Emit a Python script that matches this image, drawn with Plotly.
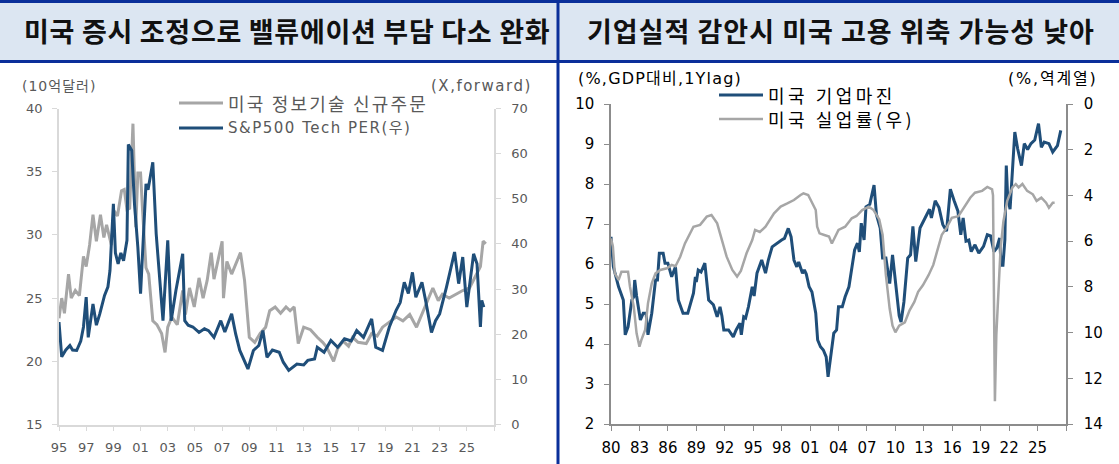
import plotly.graph_objects as go

W, H = 1119, 464

# ---------------- data (left chart) ----------------
orders_x = [1995.00,1995.20,1995.40,1995.70,1995.90,1996.20,1996.50,1996.80,1997.00,1997.25,1997.50,1997.75,
            1998.05,1998.30,1998.50,1998.85,1999.05,1999.30,1999.60,1999.80,2000.00,2000.20,2000.44,2000.55,
            2000.65,2000.80,2001.00,2001.15,2001.30,2001.40,2001.60,2001.75,2001.90,2002.20,2002.55,2002.80,
            2003.00,2003.30,2003.70,2004.10,2004.30,2004.60,2004.95,2005.30,2005.60,2005.90,2006.20,2006.40,
            2006.70,2007.00,2007.10,2007.35,2007.70,2008.00,2008.35,2008.65,2008.90,2009.00,2009.40,2009.80,
            2010.20,2010.50,2010.90,2011.30,2011.70,2012.00,2012.30,2012.60,2013.00,2013.50,2014.00,2014.40,
            2014.70,2015.20,2015.50,2015.90,2016.30,2016.60,2017.00,2017.60,2018.00,2018.40,2018.80,2019.20,
            2019.80,2020.30,2020.80,2021.30,2021.80,2022.20,2022.50,2022.90,2023.20,2023.70,2024.20,2024.70,
            2025.20,2025.70,2026.00,2026.20,2026.40]
orders_val = [23.4,25.0,23.8,26.9,25.0,25.6,25.2,28.3,27.5,29.2,31.6,29.5,
              31.6,29.8,30.8,29.2,31.9,31.5,33.5,33.6,32.0,32.1,38.8,35.0,
              30.6,34.9,34.9,31.9,29.5,27.4,26.9,24.8,23.2,22.9,22.2,20.7,
              22.7,23.5,22.9,25.6,23.7,25.8,24.3,26.6,25.0,26.4,28.6,26.5,
              27.9,29.5,25.0,27.9,26.9,27.7,28.6,26.4,23.2,21.9,21.5,22.2,
              22.7,24.0,24.3,23.8,24.3,24.0,24.3,21.4,22.7,22.5,21.9,21.5,
              21.1,20.0,21.0,21.6,21.2,21.9,21.5,21.4,22.2,22.0,22.7,23.0,
              23.5,23.2,23.7,22.7,24.0,25.0,25.8,24.8,25.3,25.0,25.3,25.6,
              25.8,26.9,27.5,29.5,29.3]

per_x = [1995.00,1995.10,1995.20,1995.50,1995.80,1996.00,1996.30,1996.60,1996.80,1997.00,1997.15,1997.50,
         1997.75,1998.00,1998.35,1998.60,1998.75,1999.00,1999.15,1999.35,1999.55,1999.75,2000.00,2000.10,
         2000.35,2000.55,2000.80,2001.00,2001.40,2001.55,2001.90,2002.15,2002.50,2002.65,2003.00,2003.25,
         2003.60,2004.10,2004.25,2004.50,2004.85,2005.30,2005.70,2006.00,2006.40,2006.70,2006.90,2007.20,
         2007.70,2008.00,2008.30,2008.90,2009.30,2009.70,2010.00,2010.30,2010.70,2011.20,2011.50,2011.90,
         2012.50,2013.00,2013.30,2013.80,2014.00,2014.50,2015.00,2015.50,2016.00,2016.50,2016.90,2017.40,
         2018.00,2018.30,2018.80,2019.30,2019.80,2020.10,2020.40,2020.70,2021.00,2021.25,2021.70,2022.00,
         2022.40,2022.70,2023.00,2023.50,2024.10,2024.40,2024.70,2025.00,2025.50,2025.75,2026.00,2026.10,
         2026.25]
per_val = [22.7,18.0,15.0,16.5,17.5,16.5,16.4,18.5,21.6,28.2,19.3,26.7,
           22.0,24.5,28.6,30.5,34.1,48.9,38.0,35.6,38.0,36.3,40.8,62.0,
           60.7,49.0,39.3,29.0,53.3,52.0,58.1,42.2,27.5,23.0,40.8,23.0,
           29.7,37.8,23.0,22.0,21.6,20.4,21.2,20.8,19.3,21.5,23.0,20.5,
           24.5,20.0,16.4,12.3,16.4,17.5,20.8,14.9,16.5,16.0,13.8,12.0,
           13.4,13.2,14.2,14.5,17.1,16.0,18.6,17.1,19.0,18.5,20.8,19.3,
           23.4,17.1,16.4,21.6,25.3,27.0,31.5,29.0,33.7,28.2,31.5,27.0,
           20.4,23.0,24.5,30.4,38.2,31.2,37.1,26.0,37.8,35.6,21.6,27.5,
           26.0]

left_xticks = list(range(1995, 2028, 2))
left_xlabels = ["95","97","99","01","03","05","07","09","11","13","15","17","19","21","23","25",""]

# ---------------- data (right chart) ----------------
margin_x = [1980.00,1980.25,1980.80,1981.30,1981.50,1981.80,1982.20,1982.40,1982.50,1982.70,1983.10,1983.40,
            1983.70,1983.90,1984.30,1984.70,1984.90,1985.10,1985.50,1985.70,1986.00,1986.40,1986.80,1987.10,
            1987.60,1988.10,1988.70,1988.90,1989.00,1989.20,1989.50,1989.90,1990.30,1990.80,1991.20,1991.50,
            1991.70,1991.90,1992.40,1992.90,1993.20,1993.60,1993.75,1994.00,1994.20,1994.50,1994.90,1995.10,
            1995.40,1995.90,1996.30,1996.60,1997.00,1997.50,1998.00,1998.30,1998.70,1999.00,1999.30,1999.60,
            1999.80,2000.20,2000.40,2000.60,2000.90,2001.20,2001.40,2001.60,2001.80,2002.10,2002.40,2002.70,
            2002.90,2003.20,2003.50,2003.80,2004.00,2004.40,2004.70,2005.10,2005.40,2005.70,2006.00,2006.20,
            2006.40,2006.70,2006.90,2007.30,2007.75,2008.00,2008.40,2008.65,2009.00,2009.40,2009.70,2010.00,
            2010.40,2010.60,2010.90,2011.30,2011.60,2011.85,2012.15,2012.60,2013.10,2013.60,2013.80,2014.20,
            2014.60,2015.00,2015.40,2015.80,2016.20,2016.60,2016.90,2017.15,2017.45,2017.75,2018.00,2018.40,
            2018.80,2019.30,2019.70,2020.05,2020.40,2020.70,2021.00,2021.15,2021.35,2021.55,2021.70,2021.85,
            2022.10,2022.60,2022.90,2023.30,2023.60,2023.95,2024.30,2024.70,2025.10,2025.40,2025.70,2026.20,
            2026.60,2027.10,2027.45]
margin_val = [6.68,5.93,5.43,5.10,4.23,4.43,5.10,5.18,5.60,5.20,4.60,4.77,
              4.77,4.23,4.77,5.60,5.60,6.27,6.27,6.02,6.02,5.68,5.93,5.10,
              4.77,4.77,5.27,5.68,5.55,5.85,5.80,6.02,5.10,4.98,4.68,4.93,
              4.70,4.35,4.35,4.18,4.35,4.52,4.23,4.68,4.65,4.93,5.43,5.20,
              5.77,6.10,5.77,6.10,6.43,6.52,6.60,6.64,6.89,6.68,6.10,5.93,
              6.05,5.77,5.85,5.75,5.43,5.30,4.98,4.77,4.10,3.93,3.85,3.68,
              3.18,3.77,4.27,4.35,4.93,4.93,5.18,5.43,5.93,6.35,6.52,6.30,
              7.02,6.60,7.43,7.49,7.97,7.24,6.90,6.15,6.15,5.51,6.23,5.55,
              4.71,4.55,5.05,6.15,6.23,6.94,6.06,6.90,7.15,7.37,7.15,7.58,
              7.41,6.99,6.82,7.87,7.58,7.32,6.73,7.15,6.57,6.60,6.31,6.48,
              6.27,6.44,6.73,6.70,6.31,6.40,6.65,5.97,5.97,6.60,8.46,7.66,
              7.37,9.30,8.88,8.46,9.01,8.86,9.01,9.10,9.51,8.92,9.05,9.01,
              8.80,8.96,9.34]

unemp_x = [1980.00,1980.20,1980.40,1980.80,1981.10,1981.80,1982.00,1982.40,1982.70,1983.00,1983.20,1983.60,
           1983.90,1984.30,1984.70,1985.20,1985.90,1986.40,1986.80,1987.30,1987.80,1988.35,1988.70,1989.40,
           1990.10,1990.60,1991.20,1991.50,1992.20,1992.80,1993.30,1993.70,1994.30,1994.90,1995.20,1995.70,
           1996.30,1997.20,1997.90,1998.60,1999.30,2000.00,2000.30,2000.80,2001.20,2001.60,2001.75,2002.00,
           2002.50,2003.00,2003.30,2003.70,2004.00,2004.70,2005.40,2005.90,2006.50,2007.20,2007.70,2008.30,
           2008.65,2009.00,2009.40,2009.70,2010.00,2010.40,2011.00,2011.50,2012.00,2012.40,2012.90,2013.50,
           2014.00,2014.40,2014.90,2015.40,2015.95,2016.65,2017.40,2017.90,2018.40,2019.15,2019.70,2020.20,
           2020.30,2020.50,2020.65,2020.90,2021.10,2021.40,2021.80,2022.35,2022.70,2023.00,2023.40,2023.90,
           2024.50,2024.90,2025.40,2025.90,2026.20,2026.60,2026.80]
unemp_val = [5.88,6.24,7.41,7.70,7.34,7.34,7.99,8.87,10.03,10.62,10.33,9.89,
             8.72,7.85,7.41,7.26,7.19,7.04,7.10,6.68,6.10,5.66,5.37,5.29,
             4.93,4.86,5.22,5.66,6.68,7.26,7.55,7.30,6.53,5.95,5.51,5.60,
             5.37,4.78,4.49,4.35,4.20,3.98,3.91,3.98,4.35,4.64,5.37,5.66,
             5.73,5.80,6.10,5.80,5.51,5.37,5.00,4.90,4.64,4.49,4.64,5.05,
             5.72,7.49,8.96,9.70,9.99,9.70,9.55,9.03,8.66,8.22,7.93,7.49,
             7.04,6.45,5.72,5.42,4.98,4.91,4.39,4.10,3.88,3.80,3.63,3.73,
             4.00,13.00,10.10,7.63,6.30,5.13,4.24,3.65,3.50,3.65,3.50,3.80,
             3.95,4.24,4.10,4.32,4.54,4.32,4.32]

right_xticks = list(range(1980, 2029, 3))
right_xlabels = ["80","83","86","89","92","95","98","01","04","07","10","13","16","19","22","25",""]

# ---------------- styling ----------------
BLUE = "#1f4e79"
GRAY = "#a6a6a6"
KR = "Noto Sans CJK KR"
NUM = "DejaVu Sans, Noto Sans CJK KR"

def px(x):
    return x / W

def py(y):
    return 1 - y / H

fig = go.Figure()

fig.add_trace(go.Scatter(x=orders_x, y=orders_val, mode="lines", name="미국 정보기술 신규주문",
                         line=dict(color=GRAY, width=3), xaxis="x", yaxis="y", showlegend=False))
fig.add_trace(go.Scatter(x=per_x, y=per_val, mode="lines", name="S&P500 Tech PER(우)",
                         line=dict(color=BLUE, width=3), xaxis="x", yaxis="y2", showlegend=False))
fig.add_trace(go.Scatter(x=margin_x, y=margin_val, mode="lines", name="미국 기업마진",
                         line=dict(color=BLUE, width=3), xaxis="x2", yaxis="y3", showlegend=False))
fig.add_trace(go.Scatter(x=unemp_x, y=unemp_val, mode="lines", name="미국 실업률(우)",
                         line=dict(color=GRAY, width=2.5), xaxis="x2", yaxis="y4", showlegend=False))

LAX = "#d9d9d9"
RAX = "#8c8c8c"
lfont = dict(family=NUM, size=13, color="#595959")
rfont = dict(family=NUM, size=15, color="#000000")

left_dom_x = [px(59), px(494)]
left_dom_y = [py(424.5), py(108.5)]
right_dom_x = [px(611), px(1066)]
right_dom_y = [py(424), py(104)]

common = dict(showgrid=False, zeroline=False, showline=True, ticks="outside", ticklen=5, automargin=False)

fig.update_layout(
    width=W, height=H, autosize=False,
    margin=dict(l=0, r=0, t=0, b=0, pad=0, autoexpand=False),
    paper_bgcolor="white", plot_bgcolor="rgba(0,0,0,0)",
    showlegend=False,
    xaxis=dict(domain=left_dom_x, anchor="y", range=[1995, 2027], tickvals=left_xticks, ticktext=left_xlabels,
               linecolor=LAX, linewidth=1.5, tickcolor=LAX, tickfont=lfont, ticklabelstandoff=5, **common),
    yaxis=dict(domain=left_dom_y, anchor="x", range=[15, 40], tickvals=[15, 20, 25, 30, 35, 40],
               linecolor=LAX, linewidth=1.5, tickcolor=LAX, tickfont=lfont, ticklabelstandoff=7, **common),
    yaxis2=dict(overlaying="y", side="right", anchor="x", range=[0, 70], tickvals=list(range(0, 71, 10)),
                linecolor=LAX, linewidth=1.5, tickcolor=LAX, tickfont=lfont, ticklabelstandoff=8, **common),
    xaxis2=dict(domain=right_dom_x, anchor="y3", range=[1980, 2028], tickvals=right_xticks, ticktext=right_xlabels,
                linecolor=RAX, linewidth=1.5, tickcolor=RAX, tickfont=rfont, ticklabelstandoff=4, **common),
    yaxis3=dict(domain=right_dom_y, anchor="x2", range=[2, 10], tickvals=list(range(2, 11)),
                linecolor=RAX, linewidth=1.5, tickcolor=RAX, tickfont=rfont, ticklabelstandoff=7, **common),
    yaxis4=dict(overlaying="y3", side="right", anchor="x2", range=[14, 0], tickvals=list(range(0, 15, 2)),
                linecolor=RAX, linewidth=1.5, tickcolor=RAX, tickfont=rfont, ticklabelstandoff=8, **common),
)

shapes = []
# header bar
shapes.append(dict(type="rect", xref="paper", yref="paper", x0=0, x1=1, y0=py(61), y1=py(2),
                   fillcolor="#dce6f2", line=dict(width=0), layer="below"))
shapes.append(dict(type="line", xref="paper", yref="paper", x0=0, x1=1, y0=py(1.5), y1=py(1.5),
                   line=dict(color="#0a2f9a", width=3)))
shapes.append(dict(type="line", xref="paper", yref="paper", x0=0, x1=1, y0=py(61.5), y1=py(61.5),
                   line=dict(color="#0a2f9a", width=3)))
shapes.append(dict(type="line", xref="paper", yref="paper", x0=px(558), x1=px(558), y0=0, y1=py(1.5),
                   line=dict(color="#0a2f9a", width=3)))
# legend samples
for (x0, x1, y, c, w) in [(179, 223, 103, GRAY, 3), (179, 223, 128, BLUE, 3),
                          (719, 763, 95, BLUE, 3), (719, 763, 119, GRAY, 2.5)]:
    shapes.append(dict(type="line", xref="paper", yref="paper", x0=px(x0), x1=px(x1), y0=py(y), y1=py(y),
                       line=dict(color=c, width=w)))
fig.update_layout(shapes=shapes)

ann = []
def text(t, x, y, size, color, family=KR, xanchor="left", bold=False, ls=0):
    s = t
    if ls:
        s = '<span style="letter-spacing:%spx">%s</span>' % (ls, s)
    if bold:
        s = "<b>%s</b>" % s
    ann.append(dict(text=s, x=px(x), y=py(y), xref="paper", yref="paper",
                    xanchor=xanchor, yanchor="middle", showarrow=False,
                    font=dict(family=family, size=size, color=color)))

text("미국 증시 조정으로 밸류에이션 부담 다소 완화", 287, 31, 27, "#111111", xanchor="center", bold=True, ls=0.7)
text("기업실적 감안시 미국 고용 위축 가능성 낮아", 841, 31, 27, "#111111", xanchor="center", bold=True, ls=1)
text("(10억달러)", 20, 86, 14, "#595959", family=NUM, ls=1)
text("(X,forward)", 534, 86, 15, "#595959", family=NUM, xanchor="right", ls=1.5)
text("미국 정보기술 신규주문", 226, 103, 18, "#595959", ls=2.2)
text("S&P500 Tech PER(우)", 226, 128, 15, "#595959", family=NUM, ls=1.5)
text("(%,GDP대비,1Ylag)", 576, 79, 16, "#000000", family=NUM, ls=1.2)
text("(%,역계열)", 1100, 79, 16, "#000000", family=NUM, xanchor="right", ls=1.8)
text("미국 기업마진", 766, 95, 18, "#000000", ls=3.5)
text("미국 실업률(우)", 766, 119, 18, "#000000", ls=3.5)
fig.update_layout(annotations=ann)

fig.write_html("out.html", config={"displayModeBar": False},
               post_script="document.body.style.margin='0';document.body.style.padding='0';"
                           "document.body.style.overflow='hidden';")
